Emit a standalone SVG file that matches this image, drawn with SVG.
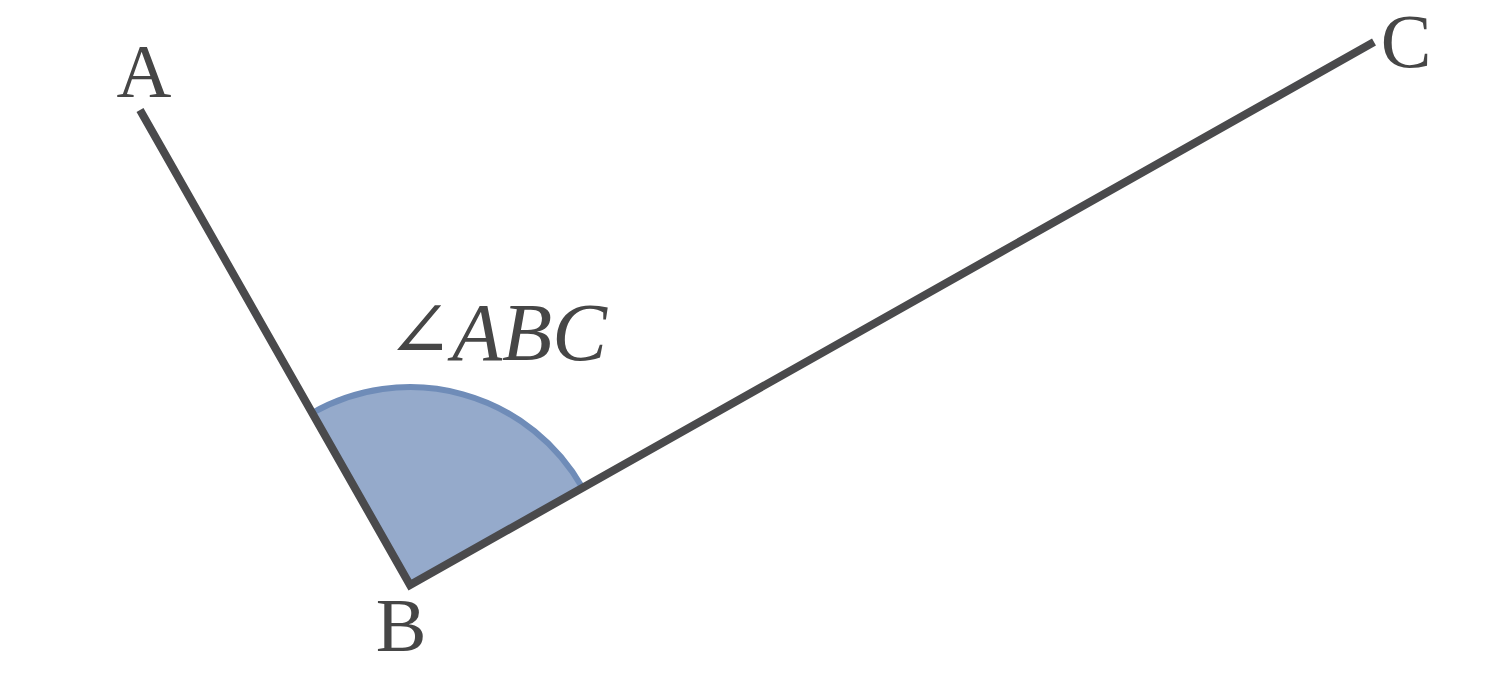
<svg xmlns="http://www.w3.org/2000/svg" width="1510" height="688" viewBox="0 0 1510 688">
<style>
.lbl{font-family:"Liberation Serif","DejaVu Serif",serif;fill:#464646;font-size:76px;text-anchor:middle}
.ang{font-family:"Liberation Serif","DejaVu Serif",serif;fill:#464646;font-size:82px;font-style:italic}
.sym{font-family:"DejaVu Serif",serif;fill:#464646;font-size:80px}
.ray{stroke:#4a4a4c;stroke-width:8;fill:none;stroke-linejoin:miter}
</style>
<rect width="1510" height="688" fill="#ffffff"/>
<g id="sector">
<path d="M410,585 L312.2,413 A198,198 0 0 1 582.5,487.8 Z" fill="#95aacb" stroke="none"/>
<path d="M312.2,413 A198,198 0 0 1 582.5,487.8" fill="none" stroke="#6f8cb8" stroke-width="6"/>
</g>
<g id="connectors">
<polyline class="ray" points="140,110 410,585 1374,42"/>
</g>
<g id="A"><text class="lbl" x="144" y="97">A</text></g>
<g id="B"><text class="lbl" x="401" y="651">B</text></g>
<g id="C"><text class="lbl" x="1406" y="67">C</text></g>
<g id="angle"><text class="sym" x="386" y="358">∠</text><text class="ang" x="452" y="360">ABC</text></g>
</svg>
